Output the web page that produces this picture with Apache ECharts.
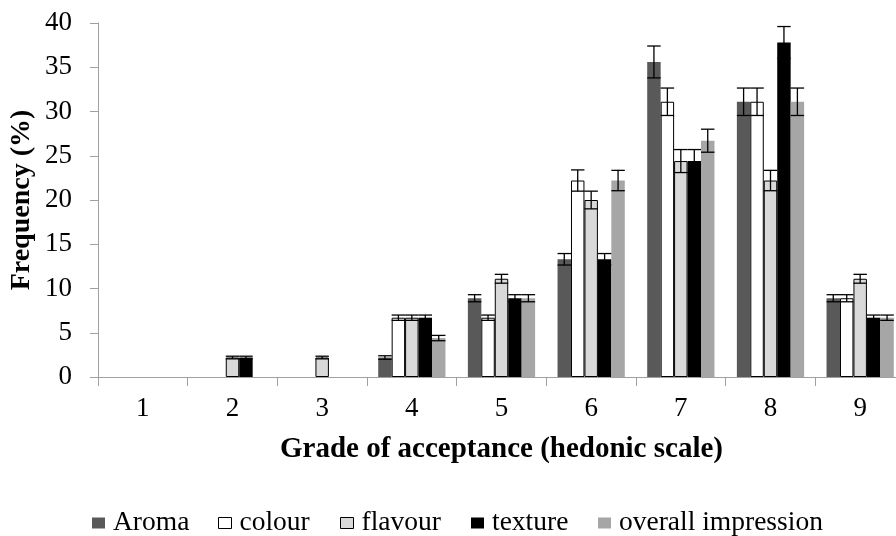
<!DOCTYPE html>
<html>
<head>
<meta charset="utf-8">
<script src="https://cdn.jsdelivr.net/npm/echarts@6/dist/echarts.min.js"></script>
<style>html,body{margin:0;padding:0;background:#fff}#c{width:896px;height:536px}</style>
</head>
<body>
<div id="c"></div>
<script>
var categories = ['1','2','3','4','5','6','7','8','9'];
var seriesNames = ['Aroma','colour','flavour','texture','overall impression'];
var aroma   = [0, 0,   0,   2.2, 8.9, 13.3, 35.6, 31.1, 8.9];
var colour  = [0, 0,   0,   6.7, 6.7, 22.2, 31.1, 31.1, 8.9];
var flavour = [0, 2.2, 2.2, 6.7, 11.1, 20.0, 24.4, 22.2, 11.1];
var texture = [0, 2.2, 0,   6.7, 8.9, 13.3, 24.4, 37.8, 6.7];
var overall = [0, 0,   0,   4.4, 8.9, 22.2, 26.7, 31.1, 6.7];
var aromaErr   = [0, 0,    0,    0.2, 0.4, 0.65, 1.8, 1.55, 0.4];
var colourErr  = [0, 0,    0,    0.3, 0.3, 1.2,  1.55, 1.55, 0.4];
var flavourErr = [0, 0.15, 0.15, 0.3, 0.5, 1.0,  1.3, 1.15, 0.5];
var textureErr = [0, 0.15, 0,    0.3, 0.4, 0.65, 1.3, 1.8, 0.3];
var overallErr = [0, 0,    0,    0.3, 0.4, 1.15, 1.3, 1.55, 0.3];
var yTicks = [0,5,10,15,20,25,30,35,40];

var values = [aroma, colour, flavour, texture, overall];
var errs = [aromaErr, colourErr, flavourErr, textureErr, overallErr];
var fills = ['#595959','#ffffff','#d9d9d9','#000000','#a6a6a6'];
var borders = ['#595959','#000000','#000000','#000000','#a6a6a6'];
var legendLeft = [92, 218, 340, 471, 598];
var font = '"Liberation Serif","Times New Roman",serif';
var catGap = 0.25;

var series = [];
values.forEach(function(v, i){
  series.push({
    name: seriesNames[i], type: 'bar',
    data: v.map(function(x){ return x > 0 ? x : '-'; }),
    barGap: '0%', barCategoryGap: (catGap*100)+'%',
    itemStyle: {color: fills[i], borderColor: borders[i], borderWidth: (i===1||i===2)?1:0},
    emphasis: {disabled: true}
  });
});
values.forEach(function(v, i){
  var data = v.map(function(val, k){ return [k, val, errs[i][k]]; }).filter(function(d){ return d[1] > 0; });
  series.push({
    type: 'custom', data: data, z: 10, silent: true,
    renderItem: function(params, api){
      var k = api.value(0), val = api.value(1), e = api.value(2);
      var band = api.size([1, 0])[0];
      var bw = band * (1 - catGap) / 5;
      var c = api.coord([k, val]);
      var x = c[0] + (i - 2) * bw;
      var top = api.coord([k, val + e])[1];
      var bot = api.coord([k, val - e])[1];
      var hw = bw / 2;
      var st = {stroke: '#000', lineWidth: 1.3};
      return {type: 'group', children: [
        {type: 'line', shape: {x1: x, y1: top, x2: x, y2: bot}, style: st},
        {type: 'line', shape: {x1: x - hw, y1: top, x2: x + hw, y2: top}, style: st},
        {type: 'line', shape: {x1: x - hw, y1: bot, x2: x + hw, y2: bot}, style: st}
      ]};
    }
  });
});

var legends = seriesNames.map(function(n, i){
  return {
    data: [{name: n, itemStyle: {color: fills[i], borderColor: (i===1||i===2)?'#000':fills[i], borderWidth: (i===1||i===2)?1:0}}],
    left: legendLeft[i], top: 509, icon: 'rect', itemWidth: 13, itemHeight: 11, padding: 0,
    textStyle: {fontFamily: font, fontSize: 27.5, color: '#000', padding: [0,0,0,3]}
  };
});

var chart = echarts.init(document.getElementById('c'), null, {renderer: 'canvas'});
chart.setOption({
  animation: false,
  backgroundColor: '#ffffff',
  grid: {left: 98, top: 23, width: 807, height: 354, outerBoundsMode: 'none', containLabel: false},
  legend: legends,
  xAxis: {
    type: 'category', data: categories,
    name: 'Grade of acceptance (hedonic scale)', nameLocation: 'middle', nameGap: 58,
    nameTextStyle: {fontFamily: font, fontSize: 29, fontWeight: 'bold', color: '#000'},
    axisLine: {lineStyle: {color: '#a0a0a0', width: 1}},
    axisTick: {show: true, length: 9, lineStyle: {color: '#a0a0a0'}},
    axisLabel: {fontFamily: font, fontSize: 27, color: '#000', margin: 18}
  },
  yAxis: {
    type: 'value', min: 0, max: 40, interval: 5,
    name: 'Frequency (%)', nameLocation: 'middle', nameGap: 62, nameMoveOverlap: false,
    nameTextStyle: {fontFamily: font, fontSize: 28, fontWeight: 'bold', color: '#000'},
    axisLine: {show: true, lineStyle: {color: '#a0a0a0', width: 1}},
    axisTick: {show: true, length: 8, lineStyle: {color: '#a0a0a0'}},
    splitLine: {show: false},
    axisLabel: {fontFamily: font, fontSize: 27, color: '#000', margin: 26,
      formatter: function(v){ return yTicks.indexOf(v) >= 0 ? String(v) : ''; }}
  },
  series: series
});
</script>
</body>
</html>
